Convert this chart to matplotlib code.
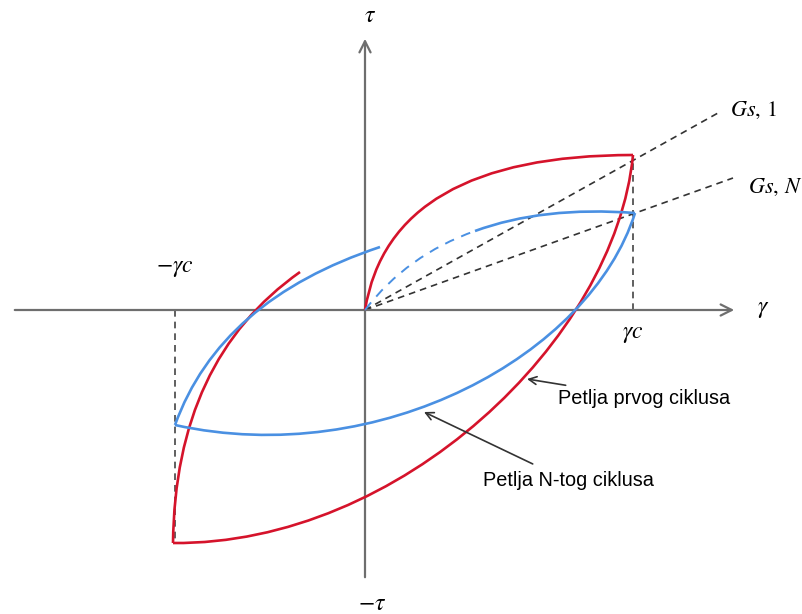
import matplotlib.pyplot as plt
from matplotlib.path import Path
from matplotlib.patches import PathPatch

# Schematic hysteresis loops, coordinates relative to the origin (y up)
# Each curve is given by its Bezier control points
red_loading = [(0, 0), (25, 155), (268, 155)]
red_unloading = [(268, 155), (250, -30), (35, -235), (-192, -233)]
red_reloading = [(-192, -233), (-190, -50), (-65, 38)]

blue_loading_dashed = [(0, 0), (42, 55), (110, 79)]
blue_loading = [(110, 79), (178, 104), (270, 97)]
blue_unloading = [(270, 97), (225, -45), (15, -160), (-190, -115)]
blue_reloading = [(-190, -115), (-145, 10), (15, 63)]

gamma_c = 268
neg_gamma_c = -190
tau_red_peak = 155
tau_red_min = -233

gs1_end = (353, 197)
gsn_end = (368, 132)

RED = "#d5132b"
BLUE = "#4a90e2"
AXIS = "#6e6e6e"


def bezier(ax, pts, color, lw=1.9, ls="-"):
    codes = [Path.MOVETO] + [Path.CURVE3 if len(pts) == 3 else Path.CURVE4] * (len(pts) - 1)
    patch = PathPatch(Path(pts, codes), facecolor="none", edgecolor=color,
                      lw=lw, linestyle=ls, capstyle="butt", zorder=3)
    ax.add_patch(patch)


fig = plt.figure(figsize=(8.03, 6.14), dpi=100, facecolor="white")
ax = fig.add_axes([0, 0, 1, 1])
ax.set_xlim(-365, 438)
ax.set_ylim(-304, 310)
ax.axis("off")

plt.rcParams["mathtext.fontset"] = "stix"

# axes with open arrow heads
ax.annotate("", xy=(372, 0), xytext=(-353, 0),
            arrowprops=dict(arrowstyle="->", color=AXIS, lw=1.6, mutation_scale=20))
ax.annotate("", xy=(0, 274), xytext=(0, -270),
            arrowprops=dict(arrowstyle="->", color=AXIS, lw=1.6, mutation_scale=20))

# dashed guides
dash = (0, (4, 3))
ax.plot([gamma_c, gamma_c], [0, tau_red_peak], color="#444444", lw=1.2, ls=dash, zorder=2)
ax.plot([neg_gamma_c, neg_gamma_c], [0, tau_red_min], color="#444444", lw=1.2, ls=dash, zorder=2)
ax.plot([0, gs1_end[0]], [0, gs1_end[1]], color="#333333", lw=1.2, ls=dash, zorder=2)
ax.plot([0, gsn_end[0]], [0, gsn_end[1]], color="#333333", lw=1.2, ls=dash, zorder=2)

# first cycle loop
bezier(ax, red_loading, RED)
bezier(ax, red_unloading, RED)
bezier(ax, red_reloading, RED)

# N-th cycle loop
bezier(ax, blue_loading_dashed, BLUE, lw=1.4, ls=(0, (5, 4)))
bezier(ax, blue_loading, BLUE)
bezier(ax, blue_unloading, BLUE)
bezier(ax, blue_reloading, BLUE)

# labels
ax.text(5, 295, r"$\tau$", fontsize=17, ha="center", va="center")
ax.text(7, -293, r"$-\tau$", fontsize=17, ha="center", va="center")
ax.text(392, 2, r"$\gamma$", fontsize=17, ha="left", va="center")
ax.text(gamma_c, -23, r"$\gamma c$", fontsize=17, ha="center", va="center")
ax.text(neg_gamma_c, 43, r"$-\gamma c$", fontsize=17, ha="center", va="center")
ax.text(365, 200, r"$Gs,\,\mathrm{1}$", fontsize=16, ha="left", va="center")
ax.text(383, 123, r"$Gs,\,N$", fontsize=16, ha="left", va="center")

# annotations
ax.annotate("Petlja prvog ciklusa", xy=(162, -69), xytext=(193, -88),
            fontsize=14.3, family="Liberation Sans", va="center", ha="left",
            arrowprops=dict(arrowstyle="->", color="#333333", lw=1.2, mutation_scale=14,
                            shrinkA=2, shrinkB=0))
ax.annotate("Petlja N-tog ciklusa", xy=(59, -102), xytext=(118, -171),
            fontsize=14.3, family="Liberation Sans", va="center", ha="left",
            arrowprops=dict(arrowstyle="->", color="#333333", lw=1.2, mutation_scale=14,
                            shrinkA=8, shrinkB=0))

fig.savefig("out.png", dpi=100, facecolor="white")
